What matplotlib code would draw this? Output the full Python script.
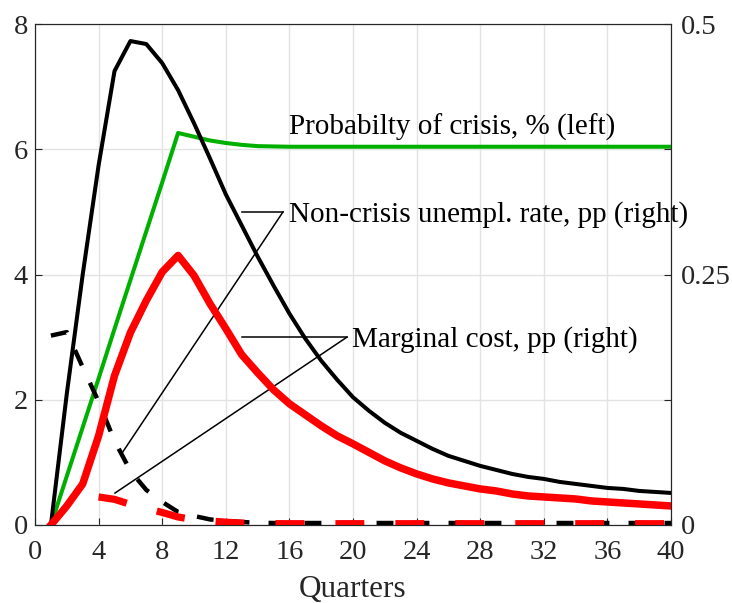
import matplotlib
matplotlib.use("Agg")
import matplotlib.pyplot as plt
import numpy as np

plt.rcParams['font.family'] = ['Liberation Serif', 'DejaVu Serif']

# ---------------- data ----------------
quarters = np.arange(1, 41)

# Probability of crisis, % (left axis)
prob_crisis = [0.00, 0.78, 1.56, 2.34, 3.13, 3.91, 4.69, 5.47, 6.26, 6.20,
               6.14, 6.10, 6.07, 6.05, 6.045, 6.04, 6.04, 6.04, 6.04, 6.04,
               6.04, 6.04, 6.04, 6.04, 6.04, 6.04, 6.04, 6.04, 6.04, 6.04,
               6.04, 6.04, 6.04, 6.04, 6.04, 6.04, 6.04, 6.04, 6.04, 6.04]

# Non-crisis unemployment rate, pp (right axis)
unemp_solid = [0.000, 0.131, 0.250, 0.359, 0.453, 0.483, 0.480, 0.461, 0.434, 0.401,
               0.366, 0.330, 0.299, 0.268, 0.239, 0.211, 0.186, 0.164, 0.145, 0.1275,
               0.114, 0.102, 0.092, 0.084, 0.076, 0.069, 0.064, 0.059, 0.055, 0.051,
               0.048, 0.046, 0.043, 0.041, 0.039, 0.037, 0.036, 0.034, 0.033, 0.032]

unemp_dashed = [0.189, 0.1925, 0.1575, 0.123, 0.084, 0.054, 0.035, 0.023, 0.013, 0.009,
                0.0056, 0.004, 0.003, 0.0022, 0.002, 0.002, 0.002, 0.002, 0.002, 0.002,
                0.002, 0.002, 0.002, 0.002, 0.002, 0.002, 0.002, 0.002, 0.002, 0.002,
                0.002, 0.002, 0.002, 0.002, 0.002, 0.002, 0.002, 0.002, 0.002, 0.002]

# Marginal cost, pp (right axis)
mc_solid = [0.000, 0.019, 0.041, 0.089, 0.149, 0.192, 0.224, 0.2525, 0.269, 0.249,
            0.221, 0.196, 0.170, 0.152, 0.135, 0.121, 0.110, 0.099, 0.089, 0.081,
            0.0725, 0.064, 0.057, 0.051, 0.046, 0.042, 0.039, 0.036, 0.034, 0.031,
            0.029, 0.028, 0.027, 0.026, 0.024, 0.023, 0.022, 0.021, 0.020, 0.019]

mc_dashed_q = np.arange(4, 41)
mc_dashed = [0.028, 0.0256, 0.0206, 0.0166, 0.0125, 0.008, 0.0053, 0.004, 0.0028, 0.0019,
             0.0016, 0.0013, 0.0013, 0.0013, 0.0013, 0.0013, 0.0013, 0.0013, 0.0013, 0.0013,
             0.0013, 0.0013, 0.0013, 0.0013, 0.0013, 0.0013, 0.0013, 0.0013, 0.0013, 0.0013,
             0.0013, 0.0013, 0.0013, 0.0013, 0.0013, 0.0013, 0.0013]

x_ticks = list(range(0, 41, 4))
left_ticks = [0, 2, 4, 6, 8]
right_ticks = [0, 0.125, 0.25, 0.375, 0.5]
right_ticklabels = ['0', '', '0.25', '', '0.5']

label_prob = 'Probabilty of crisis, % (left)'
label_unemp = 'Non-crisis unempl. rate, pp (right)'
label_mc = 'Marginal cost, pp (right)'
xlabel = 'Quarters'

# ---------------- figure ----------------
fig = plt.figure(figsize=(7.32, 6.03), dpi=100)
ax = fig.add_axes([35/732, 78/603, 636/732, 501/603])
ax2 = ax.twinx()

axis_col = '#262626'
fs_tick = 20.5
fs_text = 21
fs_label = 22.5

ax.set_xlim(0, 40)
ax.set_ylim(0, 8)
ax2.set_ylim(0, 0.5)
ax.set_xticks(x_ticks)
ax.set_yticks(left_ticks)
ax2.set_yticks(right_ticks)
ax2.set_yticklabels(right_ticklabels)

ax.grid(True, color='#e3e3e3', linewidth=1.0)
ax.set_axisbelow(True)

for a in (ax, ax2):
    for s in a.spines.values():
        s.set_color(axis_col)
        s.set_linewidth(0.8)
    a.tick_params(direction='in', length=5, width=0.8, colors=axis_col,
                  labelsize=fs_tick, labelcolor=axis_col)
ax.tick_params(axis='x', pad=11)
ax.tick_params(axis='y', pad=5)
ax2.tick_params(axis='y', pad=7)

# green (left)
ax.plot(quarters, prob_crisis, color='#00b000', linewidth=2.9, zorder=3)

# right-axis lines
ax2.plot(quarters, unemp_solid, color='black', linewidth=2.9, zorder=3)
ax2.plot(quarters, mc_solid, color='#ff0000', linewidth=5.4, zorder=4)
l1, = ax2.plot(quarters, unemp_dashed, color='black', linewidth=3.2, zorder=3)
l1.set_dashes((3.8, 4.3))
l2, = ax2.plot(mc_dashed_q, mc_dashed, color='#ff0000', linewidth=5.2, zorder=5)
l2.set_dashes((4.0, 4.3))

ax.set_xlabel(xlabel, fontsize=fs_label, color=axis_col, labelpad=7)

# annotations (in left-axis coordinates)
ax.text(16.0, 6.35, label_prob, fontsize=fs_text, va='center', ha='left', color='black', zorder=10)
ax.text(16.0, 4.95, label_unemp, fontsize=fs_text, va='center', ha='left', color='black',
        zorder=10, clip_on=False)
ax.text(19.95, 2.96, label_mc, fontsize=fs_text, va='center', ha='left', color='black', zorder=10)

ax.plot([13.0, 15.6], [5.0, 5.0], color='black', linewidth=1.1, zorder=6)
ax.plot([15.6, 5.53], [5.0, 1.17], color='black', linewidth=1.1, zorder=6)
ax.plot([13.0, 19.62], [3.0, 3.0], color='black', linewidth=1.1, zorder=6)
ax.plot([19.62, 5.03], [3.0, 0.51], color='black', linewidth=1.1, zorder=6)

ax2.set_zorder(ax.get_zorder() + 1)
ax2.patch.set_visible(False)

fig.savefig('out.png', dpi=100)
